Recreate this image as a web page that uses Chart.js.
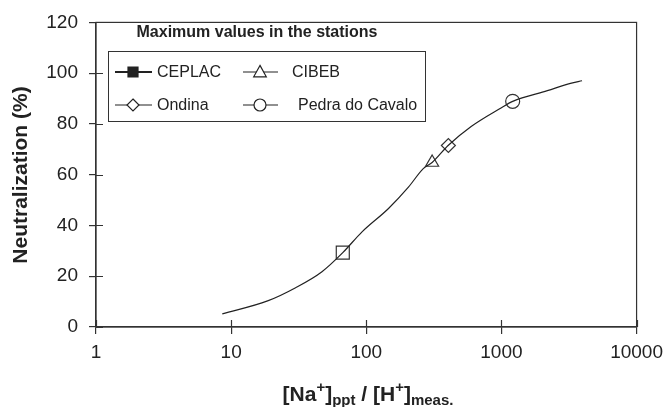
<!DOCTYPE html>
<html>
<head>
<meta charset="utf-8">
<script src="https://cdn.jsdelivr.net/npm/chart.js@4/dist/chart.umd.min.js"></script>
<style>
  html, body { margin: 0; padding: 0; background: #fff; }
  #wrap { width: 670px; height: 407px; position: relative; }
</style>
</head>
<body>
<div id="wrap"><canvas id="chart"></canvas></div>
<script>
// Curve
const curveX = [8.6, 18.6, 30, 47, 67, 93, 146, 205, 264, 307, 403, 597, 993, 1211, 2188, 3240, 3950];
const curveY = [5.2, 10.3, 15.5, 21.8, 29.3, 37.5, 46.7, 55.1, 62.4, 64.8, 71.5, 79, 86.3, 88.9, 93.1, 96, 97];

// Maximum values in the stations
const stations = ['CEPLAC', 'CIBEB', 'Ondina', 'Pedra do Cavalo'];
const stationX = [67, 307, 405, 1211];
const stationY = [29.3, 64.8, 71.5, 88.9];
const stationStyle = ['rect', 'triangle', 'rectRot', 'circle'];

const xTickValues = [1, 10, 100, 1000, 10000];
const yMin = 0, yMax = 120, yStep = 20;

const FONT = "'Liberation Sans', Arial, Helvetica, sans-serif";
const INK = '#222';

function drawMarker(ctx, style, x, y, r, filled) {
  ctx.beginPath();
  if (style === 'rect') {
    ctx.rect(x - r, y - r, 2 * r, 2 * r);
  } else if (style === 'triangle') {
    ctx.moveTo(x, y - r * 1.1);
    ctx.lineTo(x + r * 1.05, y + r * 0.8);
    ctx.lineTo(x - r * 1.05, y + r * 0.8);
    ctx.closePath();
  } else if (style === 'rectRot') {
    ctx.moveTo(x, y - r);
    ctx.lineTo(x + r, y);
    ctx.lineTo(x, y + r);
    ctx.lineTo(x - r, y);
    ctx.closePath();
  } else {
    ctx.arc(x, y, r, 0, Math.PI * 2);
  }
  ctx.fillStyle = filled ? INK : '#fff';
  ctx.fill();
  ctx.stroke();
}

// frame, inner tick halves, legend box and axis titles
const decorPlugin = {
  id: 'decor',
  afterDraw(chart) {
    const { ctx, chartArea: a, scales } = chart;
    ctx.save();
    ctx.strokeStyle = '#333';
    ctx.lineWidth = 1.2;
    ctx.strokeRect(a.left, a.top, a.right - a.left, a.bottom - a.top);

    ctx.beginPath();
    xTickValues.forEach(v => {
      const px = Math.round(scales.x.getPixelForValue(v)) + 0.5;
      ctx.moveTo(px, a.bottom);
      ctx.lineTo(px, a.bottom - 7);
    });
    for (let v = yMin; v <= yMax; v += yStep) {
      const py = Math.round(scales.y.getPixelForValue(v)) + 0.5;
      ctx.moveTo(a.left, py);
      ctx.lineTo(a.left + 7, py);
    }
    ctx.stroke();

    // legend
    ctx.fillStyle = INK;
    ctx.font = 'bold 16px ' + FONT;
    ctx.textAlign = 'center';
    ctx.textBaseline = 'middle';
    ctx.fillText('Maximum values in the stations', 257, 33);

    ctx.lineWidth = 1;
    ctx.strokeRect(108.5, 51.5, 317, 70);

    const cols = [{ l: 115, r: 152, m: 133 }, { l: 243, r: 278, m: 260 }];
    const rows = [72, 105];
    const textX = [157, 292, 157, 298];
    ctx.font = '16px ' + FONT;
    ctx.textAlign = 'left';
    stations.forEach((name, i) => {
      const c = cols[i % 2];
      const y = rows[Math.floor(i / 2)];
      ctx.strokeStyle = INK;
      ctx.lineWidth = i === 0 ? 2 : 1.2;
      ctx.beginPath();
      ctx.moveTo(c.l, y);
      ctx.lineTo(c.r, y);
      ctx.stroke();
      ctx.lineWidth = 1.2;
      const r = stationStyle[i] === 'rect' ? 5 : 6;
      drawMarker(ctx, stationStyle[i], c.m, y, r, i === 0);
      ctx.fillStyle = INK;
      ctx.fillText(name, textX[i], y + 1);
    });

    // y title
    ctx.save();
    ctx.translate(21, 175);
    ctx.rotate(-Math.PI / 2);
    ctx.font = 'bold 21px ' + FONT;
    ctx.textAlign = 'center';
    ctx.textBaseline = 'middle';
    ctx.fillText('Neutralization (%)', 0, 0);
    ctx.restore();

    // x title with super/subscripts
    const parts = [['[Na', 0], ['+', 1], [']', 0], ['ppt', -1], [' / [H', 0], ['+', 1], [']', 0], ['meas.', -1]];
    const fontFor = k => (k === 0 ? 'bold 21px ' : 'bold 15px ') + FONT;
    let total = 0;
    parts.forEach(p => { ctx.font = fontFor(p[1]); total += ctx.measureText(p[0]).width; });
    let x = 368 - total / 2;
    const base = 401;
    ctx.textAlign = 'left';
    ctx.textBaseline = 'alphabetic';
    parts.forEach(p => {
      ctx.font = fontFor(p[1]);
      const dy = p[1] === 1 ? -9 : p[1] === -1 ? 4 : 0;
      ctx.fillText(p[0], x, base + dy);
      x += ctx.measureText(p[0]).width;
    });
    ctx.restore();
  }
};

const curveData = curveX.map((x, i) => ({ x: x, y: curveY[i] }));
const markerSets = stations.map((name, i) => ({
  label: name,
  data: [{ x: stationX[i], y: stationY[i] }],
  showLine: false,
  pointStyle: stationStyle[i],
  pointRadius: stationStyle[i] === 'rect' ? 9.2 : stationStyle[i] === 'triangle' ? 7.5 : 7,
  pointBackgroundColor: '#fff',
  pointBorderColor: '#333',
  pointBorderWidth: 1.2
}));

new Chart(document.getElementById('chart'), {
  type: 'line',
  data: {
    datasets: [{
      label: 'curve',
      data: curveData,
      borderColor: INK,
      borderWidth: 1.2,
      pointRadius: 0,
      cubicInterpolationMode: 'monotone',
      fill: false
    }].concat(markerSets)
  },
  options: {
    responsive: true,
    maintainAspectRatio: false,
    animation: false,
    layout: { padding: { top: 19, right: 30, left: 0, bottom: 0 } },
    plugins: { legend: { display: false }, tooltip: { enabled: false } },
    scales: {
      x: {
        type: 'logarithmic',
        min: 1,
        max: 10000,
        afterBuildTicks: s => { s.ticks = xTickValues.map(v => ({ value: v })); },
        afterFit: s => { s.height = 80; },
        ticks: {
          callback: v => String(v),
          font: { family: FONT, size: 19 },
          color: INK,
          padding: 7,
          maxRotation: 0,
          autoSkip: false
        },
        grid: { display: true, drawOnChartArea: false, drawTicks: true, tickLength: 7, color: '#333', lineWidth: 1.2 },
        border: { display: true, color: '#333', width: 1.2 }
      },
      y: {
        min: yMin,
        max: yMax,
        afterFit: s => { s.width = 96; },
        ticks: {
          stepSize: yStep,
          font: { family: FONT, size: 19 },
          color: INK,
          padding: 11
        },
        grid: { display: true, drawOnChartArea: false, drawTicks: true, tickLength: 7, color: '#333', lineWidth: 1.2 },
        border: { display: true, color: '#333', width: 1.2 }
      }
    }
  },
  plugins: [decorPlugin]
});
</script>
</body>
</html>
